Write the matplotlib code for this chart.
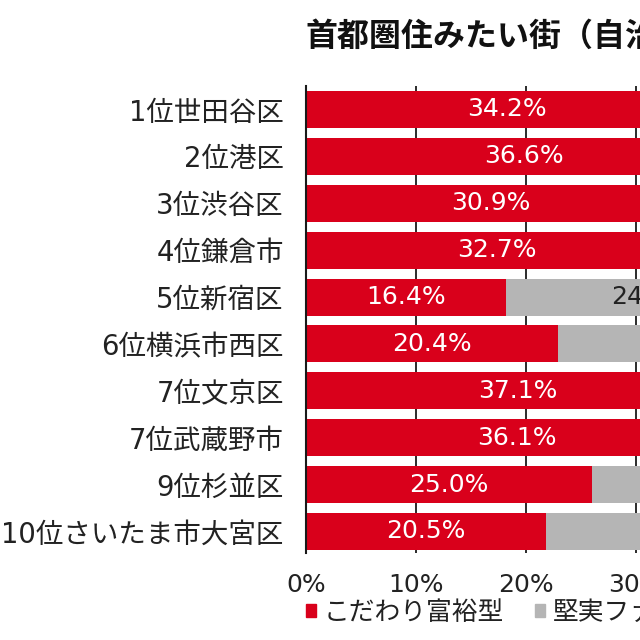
import matplotlib
matplotlib.use("Agg")
import matplotlib.pyplot as plt
from matplotlib.patches import Patch

# Verdana-like Latin digits, Japanese glyphs from Noto CJK
plt.rcParams['font.family'] = ['DejaVu Sans', 'Noto Sans CJK JP']

areas = ['1位世田谷区', '2位港区', '3位渋谷区', '4位鎌倉市', '5位新宿区',
         '6位横浜市西区', '7位文京区', '7位武蔵野市', '9位杉並区', '10位さいたま市大宮区']
rich_share = [36.5, 39.6, 33.6, 34.7, 18.2, 22.9, 38.5, 38.4, 26.0, 21.8]
rich_labels = ['34.2%', '36.6%', '30.9%', '32.7%', '16.4%',
               '20.4%', '37.1%', '36.1%', '25.0%', '20.5%']
family_share = [22.0, 21.0, 24.0, 23.0, 26.4, 27.0, 21.0, 22.0, 24.0, 28.0]
family_labels = ['20.5%', '19.4%', '22.1%', '21.6%', '24.1%',
                 '24.3%', '20.3%', '20.7%', '23.2%', '26.1%']
xticks = [0, 10, 20, 30, 40, 50, 60, 70, 80, 90, 100]

red = '#D9001B'
gray = '#B5B5B5'

fig = plt.figure(figsize=(6.4, 6.4), dpi=100)
# the chart is a cropped view: the axes run past the right edge of the picture
ax = fig.add_axes([306/640, 1 - 552.6/640, 1100/640, (552.6 - 86)/640])

y = list(range(len(areas)))
ax.barh(y, rich_share, height=0.79, color=red, zorder=2)
ax.barh(y, family_share, left=rich_share, height=0.79, color=gray, zorder=2)

for i in y:
    ax.text(rich_share[i] / 2, i, rich_labels[i], ha='center', va='center',
            color='white', fontsize=18, zorder=3)
    ax.text(rich_share[i] + family_share[i] / 2, i, family_labels[i], ha='center',
            va='center', color='#222222', fontsize=18, zorder=3)

ax.set_xlim(0, 100)
ax.set_ylim(9.45, -0.5)
ax.set_yticks(y)
ax.set_yticklabels(areas, fontsize=19.8, color='#222222')
ax.set_xticks(xticks)
ax.set_xticklabels(['{}%'.format(t) for t in xticks], fontsize=18, color='#222222')
ax.tick_params(axis='y', length=0, pad=16)
ax.tick_params(axis='x', length=0, pad=15)
ax.grid(axis='x', color='#1a1a1a', linewidth=1.3, zorder=1)
ax.grid(axis='y', visible=False)
for s in ['top', 'right', 'bottom']:
    ax.spines[s].set_visible(False)
ax.spines['left'].set_color('#1a1a1a')
ax.spines['left'].set_linewidth(1.5)
ax.spines['left'].set_zorder(4)

fig.text(305/640, 1 - 37/640, '首都圏住みたい街（自治体別）', ha='left', va='center',
         fontsize=23, fontweight='bold', color='#111111',
         family=['Noto Sans CJK JP', 'DejaVu Sans'])

handles = [Patch(color=red, label='こだわり富裕型'), Patch(color=gray, label='堅実ファミリー型')]
fig.legend(handles=handles, loc='center left', bbox_to_anchor=(306/640, 1 - 613/640),
           ncol=2, frameon=False, fontsize=18.5, handlelength=0.4, handleheight=0.4,
           handletextpad=0.3, columnspacing=1.2, borderpad=0, borderaxespad=0,
           labelcolor='#222222')

fig.savefig('out.png', dpi=100)
